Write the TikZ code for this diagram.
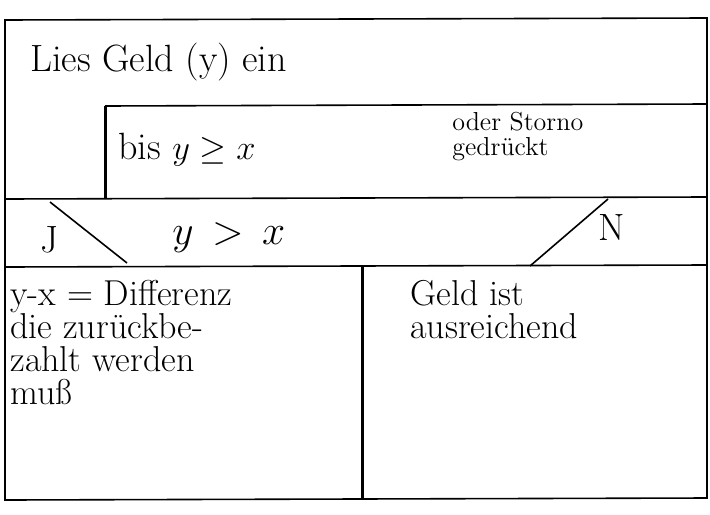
\documentclass[tikz,border=0pt]{standalone}
\begin{document}
\begin{tikzpicture}[
    x=0.5pt, y=-0.5pt,
    hand/.style={font=\fontsize{19}{22}\selectfont, anchor=west, inner sep=0pt},
    small/.style={font=\fontsize{13}{12.5}\selectfont, anchor=west, inner sep=0pt, align=left},
    cell/.style={font=\fontsize{18}{16.5}\selectfont, anchor=north west, inner sep=0pt, align=left},
    frame/.style={line width=0.8pt},
    bold/.style={line width=1.5pt}
]
    \useasboundingbox (0,0) rectangle (710,514);

    % outer frame
    \draw[frame] (5,20) -- (707,18) -- (707,498) -- (5,500) -- cycle;

    % repeat block
    \node[hand] (read) at (30,62) {Lies Geld (y) ein};
    \draw[frame] (105,106) -- (707,104);
    \draw[bold] (105,106) -- (105,198);
    \node[hand] (until) at (118,150) {bis $y \geq x$};
    \node[small] (storno) at (452,137) {oder Storno\\gedrückt};

    % decision
    \draw[frame] (5,199) -- (707,197);
    \draw[frame] (50,202) -- (127,263);
    \draw[frame] (608,199) -- (530,266);
    \node[hand] (yes) at (40,240) {J};
    \node[hand, font=\fontsize{22}{24}\selectfont] (cond) at (172,238) {$y \mathrel{\,>\,} x$};
    \node[hand] (no) at (598,228) {N};
    \draw[frame] (5,267) -- (707,265);

    % branches
    \draw[bold] (362,266) -- (362,498);
    \node[cell] (thenpart) at (10,280) {y-x = Differenz\\die zurückbe-\\zahlt werden\\muß};
    \node[cell] (elsepart) at (410,280) {Geld ist\\ausreichend};
\end{tikzpicture}
\end{document}
